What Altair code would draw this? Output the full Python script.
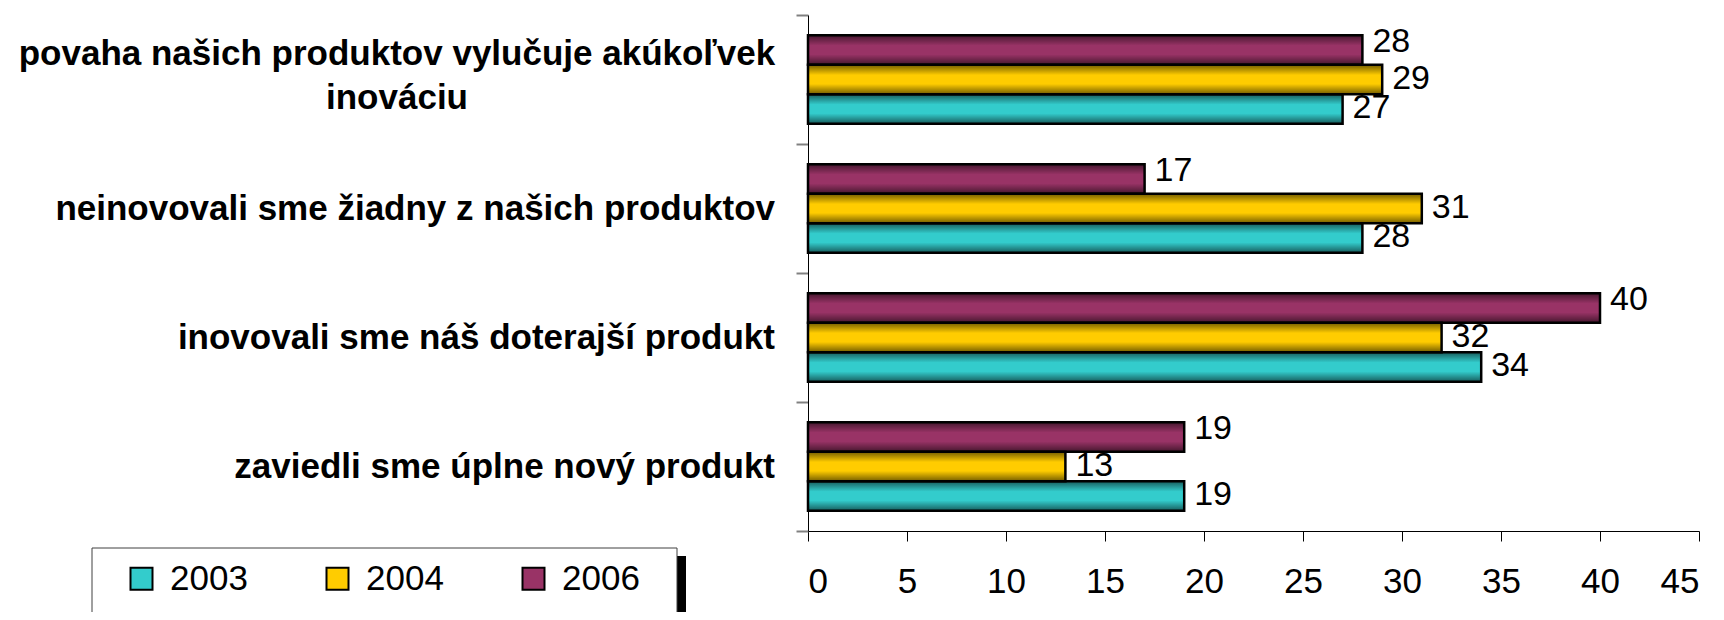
import altair as alt
import pandas as pd

# ---- data -------------------------------------------------------------
categories = [
    "povaha našich produktov vylučuje akúkoľvek\ninováciu",
    "neinovovali sme žiadny z našich produktov",
    "inovovali sme náš doterajší produkt",
    "zaviedli sme úplne nový produkt",
]
years = ["2003", "2004", "2006"]
v2003 = [27, 28, 34, 19]
v2004 = [29, 31, 32, 13]
v2006 = [28, 17, 40, 19]
colors = ["#33CCCC", "#FFCC00", "#993366"]
x_ticks = [0, 5, 10, 15, 20, 25, 30, 35, 40, 45]

rows = []
for yr, vals in zip(years, [v2003, v2004, v2006]):
    for c, v in zip(categories, vals):
        rows.append({"cat": c, "year": yr, "value": v})
df = pd.DataFrame(rows)
cat_first = pd.DataFrame({"cat": categories[:1]})
cat_rest = pd.DataFrame({"cat": categories[1:]})
one = pd.DataFrame({"k": [0]})

FONT = "Liberation Sans"

# ---- encodings ----------------------------------------------------------
y_enc = alt.Y(
    "cat:N", sort=categories,
    scale=alt.Scale(paddingInner=0, paddingOuter=0),
    axis=alt.Axis(title=None, labels=False, tickBand="extent",
                  tickColor="#808080", tickWidth=2, tickSize=12,
                  domainColor="#000000", domainWidth=1, grid=False),
)
yoff = alt.YOffset("year:N", sort=["2006", "2004", "2003"],
                   scale=alt.Scale(paddingInner=0, paddingOuter=0.686))
x_enc = alt.X(
    "value:Q",
    scale=alt.Scale(domain=[0, 45], nice=False),
    axis=alt.Axis(values=x_ticks, title=None, grid=False, tickColor="#000000",
                  tickSize=10, domainColor="#000000", labelFont=FONT,
                  labelFontSize=35, labelColor="#000000", labelPadding=23),
)

legend = alt.Legend(
    title=None, orient="none", legendX=-684, legendY=546,
    direction="horizontal", columns=3, symbolType="square", symbolSize=484,
    symbolStrokeColor="#000000", symbolStrokeWidth=2, symbolOpacity=1,
    labelFont=FONT, labelFontSize=35, labelColor="#000000", labelOffset=11,
    columnPadding=72, padding=0, labelLimit=300,
)

# ---- layers -------------------------------------------------------------
box_shadow = alt.Chart(one).mark_rect(color="#000000").encode(
    x=alt.value(-708), x2=alt.value(-122), y=alt.value(541), y2=alt.value(615))
box = alt.Chart(one).mark_rect(fill="#FFFFFF", stroke="#404040", strokeWidth=1).encode(
    x=alt.value(-716), x2=alt.value(-131), y=alt.value(533), y2=alt.value(601))
frame = alt.Chart(one).mark_rule(color="#000000", strokeWidth=1.5).encode(
    x=alt.value(-806), y=alt.value(-7), y2=alt.value(597))

bars = alt.Chart(df).mark_bar().encode(
    x=x_enc, y=y_enc, yOffset=yoff,
    color=alt.Color("year:N", scale=alt.Scale(domain=years, range=colors), legend=legend),
)

shade = alt.Chart(df).mark_bar(
    color=alt.Gradient(
        gradient="linear", x1=0, y1=0, x2=0, y2=1,
        stops=[
            alt.GradientStop(color="rgba(0,0,0,0.55)", offset=0),
            alt.GradientStop(color="rgba(0,0,0,0)", offset=0.35),
            alt.GradientStop(color="rgba(0,0,0,0)", offset=0.65),
            alt.GradientStop(color="rgba(0,0,0,0.55)", offset=1),
        ],
    ),
    stroke="#000000", strokeWidth=2.5,
).encode(x=x_enc, y=y_enc, yOffset=yoff)

values_top = alt.Chart(df).transform_filter(alt.datum.year == "2006").mark_text(
    align="left", baseline="middle", dx=10, dy=-8, font=FONT, fontSize=34, color="#000000"
).encode(x=x_enc, y=y_enc, yOffset=yoff, text="value:Q")

values_rest = alt.Chart(df).transform_filter(alt.datum.year != "2006").mark_text(
    align="left", baseline="middle", dx=10, dy=-1, font=FONT, fontSize=34, color="#000000"
).encode(x=x_enc, y=y_enc, yOffset=yoff, text="value:Q")

lab_first = alt.Chart(cat_first).mark_text(
    align="center", baseline="middle", lineBreak="\n", lineHeight=44, dy=-26,
    font=FONT, fontSize=35, fontWeight="bold", color="#000000"
).encode(y=y_enc, x=alt.value(-411), text="cat:N")

lab_rest = alt.Chart(cat_rest).mark_text(
    align="right", baseline="middle",
    font=FONT, fontSize=35, fontWeight="bold", color="#000000"
).encode(y=y_enc, x=alt.value(-33), text="cat:N")

chart = alt.layer(
    box_shadow, box, frame, bars, shade, values_top, values_rest, lab_first, lab_rest
).properties(
    width=891, height=516,
    autosize=alt.AutoSizeParams(type="none"),
    padding={"left": 800, "top": 7, "right": 17, "bottom": 81},
).configure_view(stroke=None)

chart.save("out.html", embed_options={"renderer": "svg", "actions": False})
